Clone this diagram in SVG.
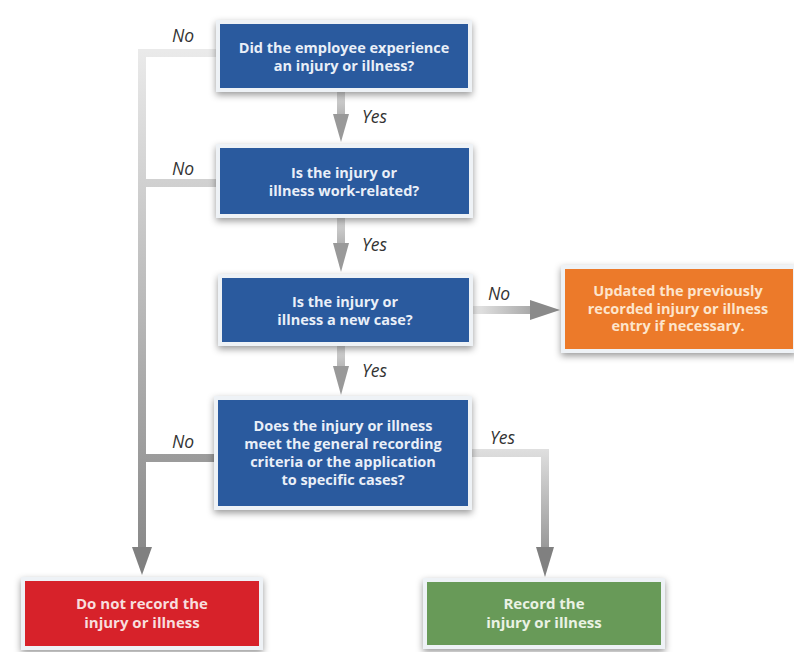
<svg xmlns="http://www.w3.org/2000/svg" width="794" height="652" viewBox="0 0 794 652">
<style>
.box{stroke:#eef2f6;stroke-width:4;filter:url(#sh)}
.blue{fill:#2c5a9e}
.orange{fill:#ec7a2a}
.red{fill:#d7232a}
.green{fill:#679a58}
.t{font-family:"Open Sans","Liberation Sans",sans-serif;font-weight:bold;font-size:15px;text-anchor:middle}
.ts{font-size:14.5px}
.tb{fill:#e9eff8;font-size:14.5px}
.to{fill:#fde5cc}
.tr{fill:#f8dede}
.tg{fill:#eaf2e4}
.lbl{font-family:"Open Sans","Liberation Sans",sans-serif;font-style:italic;font-size:17.5px;fill:#333}
.ln{fill:none;stroke-width:8}
.head{fill:#808080}
</style>
<defs>
<filter id="sh" x="-10%" y="-20%" width="120%" height="150%">
<feDropShadow dx="0" dy="3" stdDeviation="3.5" flood-color="#000" flood-opacity="0.4"/>
</filter>
<linearGradient id="gL" gradientUnits="userSpaceOnUse" x1="0" y1="40" x2="0" y2="575">
<stop offset="0" stop-color="#ececec"/>
<stop offset="1" stop-color="#858585"/>
</linearGradient>
<linearGradient id="gR" gradientUnits="userSpaceOnUse" x1="0" y1="445" x2="0" y2="577">
<stop offset="0" stop-color="#e2e2e2"/>
<stop offset="1" stop-color="#858585"/>
</linearGradient>
<linearGradient id="gO" gradientUnits="userSpaceOnUse" x1="474" y1="0" x2="560" y2="0">
<stop offset="0" stop-color="#e6e6e6"/>
<stop offset="1" stop-color="#8a8a8a"/>
</linearGradient>
<linearGradient id="g1" gradientUnits="userSpaceOnUse" x1="0" y1="92" x2="0" y2="142">
<stop offset="0" stop-color="#d8d8d8"/>
<stop offset="1" stop-color="#8a8a8a"/>
</linearGradient>
<linearGradient id="g2" gradientUnits="userSpaceOnUse" x1="0" y1="218" x2="0" y2="272">
<stop offset="0" stop-color="#d8d8d8"/>
<stop offset="1" stop-color="#8a8a8a"/>
</linearGradient>
<linearGradient id="g3" gradientUnits="userSpaceOnUse" x1="0" y1="346" x2="0" y2="395">
<stop offset="0" stop-color="#d8d8d8"/>
<stop offset="1" stop-color="#8a8a8a"/>
</linearGradient>
</defs>
<rect width="794" height="652" fill="#ffffff"/>

<g id="connectors">
<path class="ln" stroke="url(#gL)" d="M218 53 H142 V552"/>
<path class="ln" stroke="url(#gL)" d="M216 183 H142"/>
<path class="ln" stroke="url(#gL)" d="M214 458 H142"/>
<polygon class="head" points="132,547 152,547 142,575"/>
<path class="ln" stroke="url(#g1)" d="M341 92 V118"/>
<polygon fill="#999" points="333,114 349,114 341,142"/>
<path class="ln" stroke="url(#g2)" d="M341 218 V246"/>
<polygon fill="#999" points="333,243 349,243 341,272"/>
<path class="ln" stroke="url(#g3)" d="M341 346 V368"/>
<polygon fill="#999" points="333,366 349,366 341,395"/>
<path class="ln" stroke="url(#gO)" d="M473 310 H534"/>
<polygon fill="#8a8a8a" points="530,300 530,320 560,310"/>
<path class="ln" stroke="url(#gR)" d="M472 453 H545 V552"/>
<polygon class="head" points="536,547 554,547 545,577"/>
<text class="lbl" x="172" y="42">No</text>
<text class="lbl" x="172" y="175">No</text>
<text class="lbl" x="172" y="448">No</text>
<text class="lbl" x="488" y="300">No</text>
<text class="lbl" x="362" y="123">Yes</text>
<text class="lbl" x="362" y="251">Yes</text>
<text class="lbl" x="362" y="377">Yes</text>
<text class="lbl" x="490" y="444">Yes</text>
</g>

<g id="q1">
<rect class="box blue" x="218" y="22" width="252" height="68"/>
<text class="t tb" x="344" y="53">Did the employee experience</text>
<text class="t tb" x="344" y="71">an injury or illness?</text>
</g>

<g id="q2">
<rect class="box blue" x="218" y="146" width="253" height="70"/>
<text class="t tb" x="344" y="178">Is the injury or</text>
<text class="t tb" x="344" y="196">illness work-related?</text>
</g>

<g id="q3">
<rect class="box blue" x="220" y="276" width="251" height="68"/>
<text class="t tb" x="345" y="307">Is the injury or</text>
<text class="t tb" x="345" y="325">illness a new case?</text>
</g>

<g id="q4">
<rect class="box blue" x="216" y="398" width="254" height="110"/>
<text class="t tb" x="343" y="431">Does the injury or illness</text>
<text class="t tb" x="343" y="449">meet the general recording</text>
<text class="t tb" x="343" y="467">criteria or the application</text>
<text class="t tb" x="343" y="485">to specific cases?</text>
</g>

<g id="update">
<rect class="box orange" x="563" y="267" width="232" height="84"/>
<text class="t ts to" x="678" y="296">Updated the previously</text>
<text class="t ts to" x="678" y="313.5">recorded injury or illness</text>
<text class="t ts to" x="678" y="331">entry if necessary.</text>
</g>

<g id="norecord">
<rect class="box red" x="23" y="579" width="238" height="69"/>
<text class="t tr" x="142" y="609">Do not record the</text>
<text class="t tr" x="142" y="628">injury or illness</text>
</g>

<g id="record">
<rect class="box green" x="425" y="580" width="238" height="67"/>
<text class="t tg" x="544" y="609">Record the</text>
<text class="t tg" x="544" y="628">injury or illness</text>
</g>
</svg>
